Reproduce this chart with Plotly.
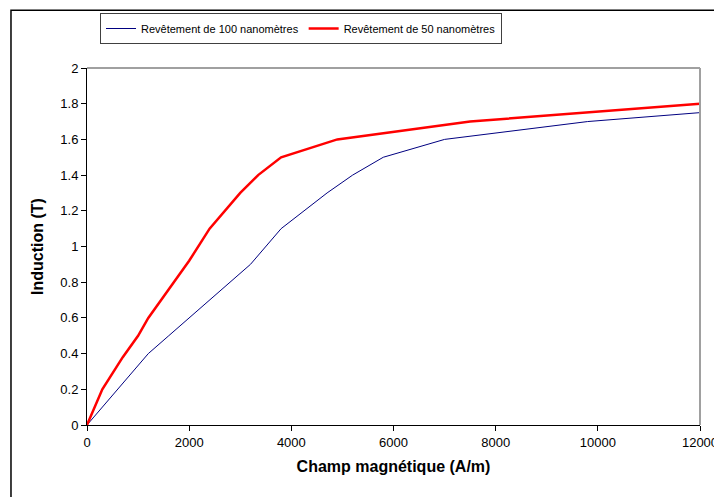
"""Courbes d'induction B(H) pour deux épaisseurs de revêtement."""

import plotly.graph_objects as go

# données
H_100 = [0, 600, 1200, 1600, 2000, 2400, 2800, 3200, 3800, 4700, 5200, 5800, 7000, 9800, 12000]
B_100 = [0, 0.2, 0.4, 0.5, 0.6, 0.7, 0.8, 0.9, 1.1, 1.3, 1.4, 1.5, 1.6, 1.7, 1.75]

H_50 = [0, 300, 700, 1000, 1200, 1450, 1700, 2000, 2400, 2700, 3000, 3350, 3800, 4900, 7500, 12000]
B_50 = [0, 0.2, 0.38, 0.5, 0.6, 0.7, 0.8, 0.92, 1.1, 1.2, 1.3, 1.4, 1.5, 1.6, 1.7, 1.8]

X_TICKS = [0, 2000, 4000, 6000, 8000, 10000, 12000]
X_LABELS = ['0', '2000', '4000', '6000', '8000', '10000', '12000']
Y_TICKS = [0, 0.2, 0.4, 0.6, 0.8, 1, 1.2, 1.4, 1.6, 1.8, 2]
Y_LABELS = ['0', '0.2', '0.4', '0.6', '0.8', '1', '1.2', '1.4', '1.6', '1.8', '2']

FONT = 'Liberation Sans, Arial, sans-serif'

# la page html garde la marge de 8 px du <body>
W, H = 714, 489

fig = go.Figure()
fig.add_trace(go.Scatter(x=H_100, y=B_100, mode='lines',
                         name='Revêtement de 100 nanomètres',
                         line=dict(color='#000080', width=1)))
fig.add_trace(go.Scatter(x=H_50, y=B_50, mode='lines',
                         name='Revêtement de 50 nanomètres',
                         line=dict(color='#FF0000', width=2.5)))

# bordure grise haut/droite de la zone de tracé
fig.add_shape(type='line', xref='paper', yref='paper', x0=0, y0=1, x1=1, y1=1,
              line=dict(color='#A0A0A0', width=2))
fig.add_shape(type='line', xref='paper', yref='paper', x0=1, y0=0, x1=1, y1=1,
              line=dict(color='#A0A0A0', width=2))
# cadre extérieur du graphique
fig.add_shape(type='rect', xref='paper', yref='paper', x0=-0.124, y0=-0.3, x1=1.2, y1=1.162,
              line=dict(color='black', width=1.5), layer='below')

fig.update_layout(
    width=W, height=H,
    margin=dict(l=79, r=22, t=60, b=72, autoexpand=False),
    paper_bgcolor='white', plot_bgcolor='white',
    font=dict(family=FONT, size=13, color='black'),
    showlegend=True,
    legend=dict(orientation='h', xref='container', yref='container',
                x=92 / W, y=1 - 5 / H, xanchor='left', yanchor='top',
                bordercolor='#404040', borderwidth=1, font=dict(size=11),
                itemwidth=30, tracegroupgap=0),
)
fig.update_xaxes(range=[0, 12000], tickvals=X_TICKS, ticktext=X_LABELS,
                 showgrid=False, zeroline=False, automargin=False,
                 showline=True, linecolor='black', linewidth=1,
                 ticks='outside', ticklen=5, tickcolor='black',
                 title=dict(text='<b>Champ magnétique (A/m)</b>', standoff=12))
fig.update_yaxes(range=[0, 2], tickvals=Y_TICKS, ticktext=Y_LABELS,
                 showgrid=False, zeroline=False, automargin=False,
                 showline=True, linecolor='black', linewidth=1,
                 ticks='outside', ticklen=5, tickcolor='black',
                 title=dict(text='<b>Induction (T)</b>', standoff=12))

fig.write_html('out.html')
